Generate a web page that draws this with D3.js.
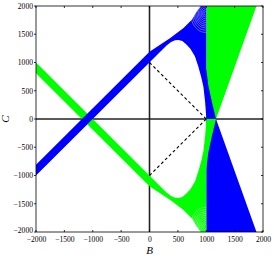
<!DOCTYPE html>
<html>
<head>
<meta charset="utf-8">
<script src="https://cdn.jsdelivr.net/npm/d3@7"></script>
<style>
  body { margin: 0; background: #fff; }
  text { font-family: "Liberation Serif", "Times New Roman", serif; fill: #000; }
</style>
</head>
<body>
<div id="chart"></div>
<script>
let width = 274;
let height = 256;
let margin = { left: 36, top: 6, right: 11, bottom: 24 };

let xTicks = [-2000, -1500, -1000, -500, 0, 500, 1000, 1500, 2000];
let yTicks = [-2000, -1500, -1000, -500, 0, 500, 1000, 1500, 2000];

// outlines, as [B, C]
let blueBand = [
  [-2000, -1000], [300, 1300], [380, 1365], [450, 1395], [510, 1400], [580, 1380],
  [650, 1320], [720, 1245], [800, 1110], [860, 930], [910, 750], [950, 570],
  [980, 300], [995, 100], [1000, 0], [1172, 0], [1100, 300], [1035, 600],
  [1000, 900], [1000, 2000], [905, 2000], [870, 1950], [820, 1880], [750, 1760],
  [600, 1610], [360, 1430], [0, 1190], [-2000, -810]
];
let greenBand = [
  [-2000, 1000], [300, -1300], [380, -1365], [450, -1395], [510, -1400], [580, -1380],
  [650, -1320], [720, -1245], [800, -1110], [860, -930], [910, -750], [950, -570],
  [980, -300], [995, -100], [1000, 0], [1172, 0], [1100, -300], [1035, -600],
  [1000, -900], [1000, -2000], [905, -2000], [870, -1950], [820, -1880], [750, -1760],
  [600, -1610], [360, -1430], [0, -1190], [-2000, 810]
];
let blueFan = [[1000, 0], [1000, -2000], [1885, -2000], [1172, 0]];
let greenFan = [[1000, 0], [1000, 2000], [1885, 2000], [1172, 0]];

// nested turning loops near B = 1000 (centre and sizes in data units)
let blueLoopCentre = [985, 1870];
let greenLoopCentre = [985, -1900];
let loopSizes = [25, 50, 75, 100, 125, 150, 175, 200, 230, 260];

let dashUpper = [[0, 1000], [1000, 0]];
let dashLower = [[0, -1000], [1000, 0]];

let svg = d3.select('#chart')
  .append('svg')
  .attr('width', width)
  .attr('height', height);

let x = d3.scaleLinear()
  .domain([-2000, 2000])
  .range([margin.left, width - margin.right]);

let y = d3.scaleLinear()
  .domain([-2000, 2000])
  .range([height - margin.bottom, margin.top]);

let line = d3.line()
  .x(function(d) { return x(d[0]); })
  .y(function(d) { return y(d[1]); });

let defs = svg.append('defs');
defs.append('clipPath').attr('id', 'clipBlue')
  .append('path').attr('d', line(blueBand) + 'Z');
defs.append('clipPath').attr('id', 'clipGreen')
  .append('path').attr('d', line(greenBand) + 'Z');

let plot = svg.append('g');

// zero lines, under the curves
plot.append('line')
  .attr('x1', x(0)).attr('x2', x(0))
  .attr('y1', y(-2000)).attr('y2', y(2000))
  .attr('stroke', '#222').attr('stroke-width', 1.6);
plot.append('line')
  .attr('x1', x(-2000)).attr('x2', x(2000))
  .attr('y1', y(0)).attr('y2', y(0))
  .attr('stroke', '#222').attr('stroke-width', 1.6);

// fans first, then the bands on top
plot.append('path').attr('d', line(blueFan) + 'Z').attr('fill', '#0000ff');
plot.append('path').attr('d', line(greenFan) + 'Z').attr('fill', '#00ff00');
plot.append('path').attr('d', line(greenBand) + 'Z').attr('fill', '#00ff00');
plot.append('path').attr('d', line(blueBand) + 'Z').attr('fill', '#0000ff');

// faint white gaps between the looping curves
let kx = (x(1) - x(0));
let ky = (y(0) - y(1));
plot.append('g').attr('clip-path', 'url(#clipBlue)')
  .selectAll('ellipse').data(loopSizes).enter().append('ellipse')
  .attr('cx', x(blueLoopCentre[0])).attr('cy', y(blueLoopCentre[1]))
  .attr('rx', function(d) { return d * kx; })
  .attr('ry', function(d) { return d * ky * 1.3; })
  .attr('fill', 'none').attr('stroke', '#fff').attr('stroke-width', 0.45).attr('stroke-opacity', 0.8);
plot.append('g').attr('clip-path', 'url(#clipGreen)')
  .selectAll('ellipse').data(loopSizes).enter().append('ellipse')
  .attr('cx', x(greenLoopCentre[0])).attr('cy', y(greenLoopCentre[1]))
  .attr('rx', function(d) { return d * kx; })
  .attr('ry', function(d) { return d * ky * 1.3; })
  .attr('fill', 'none').attr('stroke', '#fff').attr('stroke-width', 0.45).attr('stroke-opacity', 0.8);

[dashUpper, dashLower].forEach(function(seg) {
  plot.append('path')
    .attr('d', line(seg))
    .attr('fill', 'none')
    .attr('stroke', '#000')
    .attr('stroke-width', 1.1)
    .attr('stroke-dasharray', '3,2.5');
});

// box
svg.append('rect')
  .attr('x', x(-2000)).attr('y', y(2000))
  .attr('width', x(2000) - x(-2000))
  .attr('height', y(-2000) - y(2000))
  .attr('fill', 'none')
  .attr('stroke', '#000')
  .attr('stroke-width', 0.8);

let fmt = function(d) { return d < 0 ? '\u2212' + Math.abs(d) : d; };
let xAxis = d3.axisBottom(x).tickValues(xTicks).tickSize(0).tickPadding(5).tickFormat(fmt);
let yAxis = d3.axisLeft(y).tickValues(yTicks).tickSize(0).tickPadding(3).tickFormat(fmt);

let gx = svg.append('g')
  .attr('transform', 'translate(0,' + y(-2000) + ')')
  .call(xAxis);
let gy = svg.append('g')
  .attr('transform', 'translate(' + x(-2000) + ',0)')
  .call(yAxis);
[gx, gy].forEach(function(g) {
  g.select('.domain').remove();
  g.selectAll('text').style('font-size', '7.6px').style('fill', '#000');
});
// lowest C label sits just above the B labels
gy.selectAll('.tick text').filter(function(d) { return d === -2000; }).attr('dy', '0.1em');

// small tick marks on all four sides
xTicks.forEach(function(t) {
  svg.append('line').attr('x1', x(t)).attr('x2', x(t))
    .attr('y1', y(-2000)).attr('y2', y(-2000) - 2).attr('stroke', '#000').attr('stroke-width', 0.8);
  svg.append('line').attr('x1', x(t)).attr('x2', x(t))
    .attr('y1', y(2000)).attr('y2', y(2000) + 2).attr('stroke', '#000').attr('stroke-width', 0.8);
});
yTicks.forEach(function(t) {
  svg.append('line').attr('x1', x(-2000) - 2).attr('x2', x(-2000))
    .attr('y1', y(t)).attr('y2', y(t)).attr('stroke', '#000').attr('stroke-width', 0.8);
  svg.append('line').attr('x1', x(2000)).attr('x2', x(2000) - 2)
    .attr('y1', y(t)).attr('y2', y(t)).attr('stroke', '#000').attr('stroke-width', 0.8);
});

svg.append('text')
  .attr('x', x(0))
  .attr('y', 254)
  .attr('text-anchor', 'middle')
  .style('font-size', '11px')
  .style('font-style', 'italic')
  .text('B');

svg.append('text')
  .attr('transform', 'translate(9,' + y(0) + ') rotate(-90)')
  .attr('text-anchor', 'middle')
  .style('font-size', '11px')
  .style('font-style', 'italic')
  .text('C');
</script>
</body>
</html>
